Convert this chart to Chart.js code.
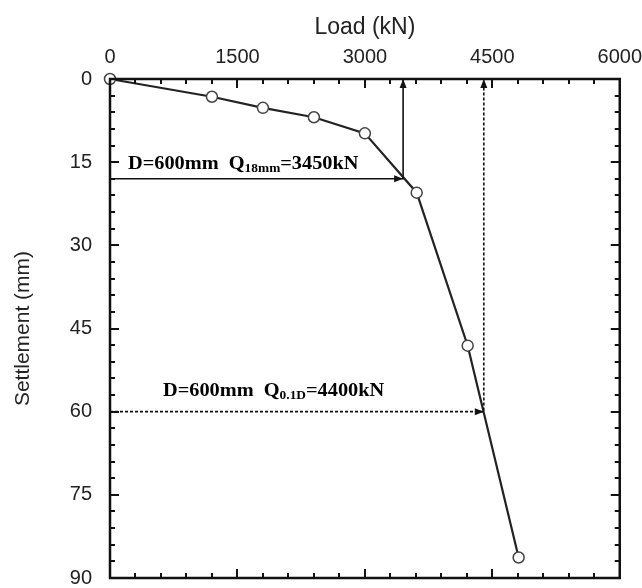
<!DOCTYPE html>
<html><head><meta charset="utf-8">
<script src="https://cdn.jsdelivr.net/npm/chart.js@4"></script>
<style>html,body{margin:0;padding:0;background:#fff}#wrap{width:642px;height:588px}</style>
</head><body><div id="wrap"><canvas id="c" width="642" height="588"></canvas></div>
<script>
// ---- data ----
const loads = [0, 1200, 1800, 2400, 3000, 3610, 4210, 4810];
const settlements = [0, 3.2, 5.2, 6.9, 9.8, 20.5, 48.1, 86.3];
const xTicks = [0, 1500, 3000, 4500, 6000];
const yTicks = [0, 15, 30, 45, 60, 75, 90];
const xMinorStep = 300;
const yMinorStep = 3;
const q18Load = 3450, q18Settle = 18;
const q01Load = 4400, q01Settle = 60;
const label1 = {main: 'D=600mm  Q', sub: '18mm', tail: '=3450kN', x: 212, y: 15.2};
const label2 = {main: 'D=600mm  Q', sub: '0.1D', tail: '=4400kN', x: 624, y: 56.1};

const curve = loads.map((v, i) => ({x: v, y: settlements[i]}));
const arrow18 = [{x: 0, y: q18Settle}, {x: q18Load, y: q18Settle}, {x: q18Load, y: 0}];
const arrow01 = [{x: 0, y: q01Settle}, {x: q01Load, y: q01Settle}, {x: q01Load, y: 0}];

function arrowHead(ctx, x, y, dir) {
  const L = 9, W = 3.5;
  ctx.beginPath();
  if (dir === 'up') { ctx.moveTo(x, y); ctx.lineTo(x - W, y + L); ctx.lineTo(x + W, y + L); }
  else { ctx.moveTo(x, y); ctx.lineTo(x - L, y - W); ctx.lineTo(x - L, y + W); }
  ctx.closePath(); ctx.fill();
}

function drawLabel(ctx, lab, xs, ys) {
  const px0 = xs.getPixelForValue(lab.x), py = ys.getPixelForValue(lab.y) + 6;
  ctx.save();
  ctx.translate(px0, py);
  ctx.scale(1.07, 1);
  let px = 0;
  ctx.fillStyle = '#000';
  ctx.textBaseline = 'alphabetic'; ctx.textAlign = 'left';
  const big = 'bold 19px "Liberation Serif", "Times New Roman", serif';
  const small = 'bold 12.5px "Liberation Serif", "Times New Roman", serif';
  ctx.font = big; ctx.fillText(lab.main, px, 0); px += ctx.measureText(lab.main).width;
  ctx.font = small; ctx.fillText(lab.sub, px, 3); px += ctx.measureText(lab.sub).width;
  ctx.font = big; ctx.fillText(lab.tail, px, 0);
  ctx.restore();
}

const framePlugin = {
  id: 'frame',
  afterDatasetsDraw(chart) {
    const {ctx, chartArea: a, scales: {x, y}} = chart;
    ctx.save();
    ctx.strokeStyle = '#111'; ctx.fillStyle = '#111'; ctx.lineWidth = 2;
    ctx.beginPath();
    for (let v = 0; v <= 6000; v += xMinorStep) {
      const px = Math.round(x.getPixelForValue(v));
      const len = xTicks.includes(v) ? 9 : 5;
      ctx.moveTo(px, a.top); ctx.lineTo(px, a.top + len);
      ctx.moveTo(px, a.bottom); ctx.lineTo(px, a.bottom - len);
    }
    for (let v = 0; v <= 90; v += yMinorStep) {
      const py = Math.round(y.getPixelForValue(v));
      const len = yTicks.includes(v) ? 9 : 5;
      ctx.moveTo(a.left, py); ctx.lineTo(a.left + len, py);
      ctx.moveTo(a.right, py); ctx.lineTo(a.right - len, py);
    }
    ctx.stroke();
    ctx.lineWidth = 2.5;
    ctx.strokeRect(a.left, a.top, a.right - a.left, a.bottom - a.top);
    ctx.fillStyle = '#111';
    arrowHead(ctx, x.getPixelForValue(q18Load), y.getPixelForValue(q18Settle), 'right');
    arrowHead(ctx, x.getPixelForValue(q18Load), y.getPixelForValue(0), 'up');
    arrowHead(ctx, x.getPixelForValue(q01Load), y.getPixelForValue(q01Settle), 'right');
    arrowHead(ctx, x.getPixelForValue(q01Load), y.getPixelForValue(0), 'up');
    drawLabel(ctx, label1, x, y);
    drawLabel(ctx, label2, x, y);
    ctx.restore();
  }
};

const tickFont = {family: '"Liberation Sans", Arial, sans-serif', size: 20, lineHeight: 1};
const titleFontX = {family: '"Liberation Sans", Arial, sans-serif', size: 23};
const titleFontY = {family: '"Liberation Sans", Arial, sans-serif', size: 21};

new Chart(document.getElementById('c'), {
  type: 'scatter',
  data: {
    datasets: [
      {data: arrow18, showLine: true, borderColor: '#111', borderWidth: 1.6, pointRadius: 0, clip: false},
      {data: arrow01, showLine: true, borderColor: '#111', borderWidth: 1.6, borderDash: [3, 2], pointRadius: 0, clip: false},
      {data: curve, showLine: true, borderColor: '#222', borderWidth: 2.2, pointRadius: 5.5,
       pointBackgroundColor: '#fff', pointBorderColor: '#444', pointBorderWidth: 1.5, clip: false}
    ]
  },
  options: {
    responsive: false, animation: false,
    layout: {padding: {left: 0, right: 22, top: 0, bottom: 10}},
    plugins: {legend: {display: false}, tooltip: {enabled: false}},
    scales: {
      x: {
        type: 'linear', position: 'top', min: 0, max: 6000,
        afterBuildTicks: s => { s.ticks = xTicks.map(v => ({value: v})); },
        afterFit: s => { s.height = 79; },
        grid: {display: false, drawTicks: true, tickLength: 12}, border: {display: false},
        ticks: {font: tickFont, color: '#222', padding: 0, maxRotation: 0, callback: v => String(v)},
        title: {display: true, text: 'Load (kN)', font: titleFontX, color: '#222', padding: {top: 14, bottom: 0}}
      },
      y: {
        type: 'linear', reverse: true, min: 0, max: 90,
        afterBuildTicks: s => { s.ticks = yTicks.map(v => ({value: v})); },
        afterFit: s => { s.width = 110; },
        grid: {display: false, drawTicks: true, tickLength: 18}, border: {display: false},
        ticks: {font: tickFont, color: '#222', padding: 0, callback: v => String(v)},
        title: {display: true, text: 'Settlement (mm)', font: titleFontY, color: '#222', padding: {top: 11, bottom: 0}}
      }
    }
  },
  plugins: [framePlugin]
});
</script>
</body></html>
